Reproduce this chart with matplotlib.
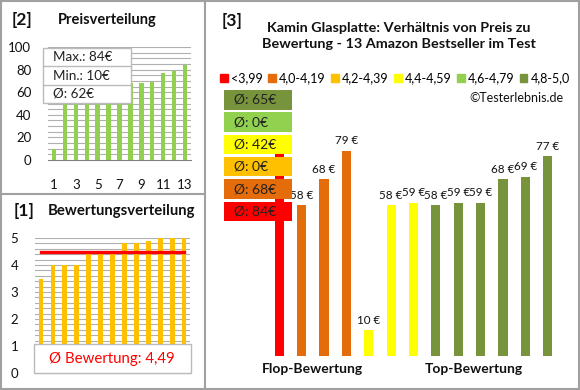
import numpy as np
import matplotlib

matplotlib.use('Agg')

import matplotlib.pyplot as plt
from matplotlib.patches import Rectangle, Patch

plt.rcParams['font.family'] = ['Lato', 'DejaVu Sans']

# panel [2]: prices sorted ascending
prices = [10, 58, 58, 58, 59, 59, 59, 68, 68, 69, 77, 79, 84]
# panel [1]: ratings sorted ascending
ratings = [3.5, 4.0, 4.0, 4.0, 4.4, 4.4, 4.4, 4.8, 4.8, 4.9, 5.0, 5.0, 5.0]
avg_rating = 4.49

# panel [3]: products ordered by rating, colored by rating class
p3_prices = [84, 58, 68, 79, 10, 58, 59, 58, 59, 59, 68, 69, 77]
p3_class = [0, 1, 1, 1, 3, 3, 3, 5, 5, 5, 5, 5, 5]
class_labels = ['<3,99', '4,0-4,19', '4,2-4,39', '4,4-4,59', '4,6-4,79', '4,8-5,0']
class_colors = ['#FF0000', '#E46C0A', '#FFC000', '#FFFF00', '#92D050', '#77933C']

W, H = 580, 390
fig = plt.figure(figsize=(W / 100, H / 100), dpi=100)
fig.patch.set_facecolor('white')


def fx(x):
    return x / W


def fy(y):
    return 1 - y / H


def px_axes(l, t, r, b):
    return fig.add_axes([l / W, 1 - b / H, (r - l) / W, (b - t) / H])


def fig_rect(l, t, r, b, **kw):
    fig.add_artist(Rectangle((fx(l), fy(b)), (r - l) / W, (b - t) / H,
                             transform=fig.transFigure, **kw))


grey = '#A0A0A0'
grid_c = '#B0B0B0'
txt_c = '#111111'

# frames
fig_rect(1, 1, 579, 389, fill=False, ec=grey, lw=1.5)
fig.add_artist(plt.Line2D([fx(205), fx(205)], [fy(1), fy(389)], color=grey, lw=1.5))
fig.add_artist(plt.Line2D([fx(1), fx(205)], [fy(194), fy(194)], color=grey, lw=1.5))

# ---------- panel [2] Preisverteilung ----------
ax2 = px_axes(48, 47, 191, 160)
x = np.arange(1, len(prices) + 1)
ax2.bar(x, prices, width=0.4, color='#92D050', zorder=2)
ax2.set_ylim(0, 100)
ax2.set_xlim(0.45, 13.55)
for g in np.arange(5, 101, 5):
    ax2.axhline(g, color=grid_c, lw=0.8, zorder=1)
ax2.set_yticks(np.arange(0, 101, 20))
ax2.set_xticks(np.arange(1, 14, 2))
for s in ['top', 'right', 'left']:
    ax2.spines[s].set_visible(False)
ax2.spines['bottom'].set_color('#808080')
ax2.tick_params(axis='both', length=0, labelsize=9.5, labelcolor=txt_c)
ax2.tick_params(axis='x', pad=14)
ax2.tick_params(axis='y', pad=12)

fig.text(fx(12), fy(20), '[2]', fontsize=12.5, fontweight='bold', va='center', color=txt_c)
fig.text(fx(58), fy(20), 'Preisverteilung', fontsize=10.5, fontweight='bold', va='center', color=txt_c)

fig_rect(43, 48, 131, 103, fc='white', ec='#BBBBBB', lw=1, zorder=3)
for yy in [66, 85]:
    fig.add_artist(plt.Line2D([fx(43), fx(131)], [fy(yy), fy(yy)], color='#BBBBBB', lw=1, zorder=4))
stats = [f'Max.: {max(prices)}€', f'Min.: {min(prices)}€', f'Ø: {round(np.mean(prices))}€']
for i, s in enumerate(stats):
    fig.text(fx(53), fy(57 + 18.5 * i), s, fontsize=9.7, va='center', zorder=5, color='#222222')

# ---------- panel [1] Bewertungsverteilung ----------
ax1 = px_axes(35, 238, 190, 373)
x = np.arange(1, len(ratings) + 1)
ax1.bar(x, ratings, width=0.4, color='#FFC000', zorder=2)
ax1.set_ylim(0, 5)
ax1.set_xlim(0.5, 13.5)
for g in np.arange(0.2, 5.01, 0.2):
    ax1.axhline(g, color=grid_c, lw=0.8, zorder=1)
ax1.plot([1, 13], [avg_rating, avg_rating], color='#FF0000', lw=2.4, zorder=3)
ax1.set_yticks(np.arange(0, 6, 1))
ax1.set_xticks([])
for s in ['top', 'right', 'left']:
    ax1.spines[s].set_visible(False)
ax1.spines['bottom'].set_color('#808080')
ax1.tick_params(axis='y', length=0, labelsize=9.5, pad=12, labelcolor=txt_c)

fig.text(fx(14), fy(211), '[1]', fontsize=12.5, fontweight='bold', va='center', color=txt_c)
fig.text(fx(48), fy(211), 'Bewertungsverteilung', fontsize=10.7, fontweight='bold', va='center', color=txt_c)

fig_rect(34, 344, 191, 373, fc='white', ec='#BBBBBB', lw=1, zorder=3)
fig.text(fx(112), fy(359), 'Ø Bewertung: ' + f'{avg_rating:.2f}'.replace('.', ','),
         fontsize=10.8, color='#FF0000', ha='center', va='center', zorder=5)

# ---------- panel [3] ----------
ax3 = px_axes(268, 96, 559, 356)
x = np.arange(len(p3_prices))
ax3.bar(x, p3_prices, width=0.41, color=[class_colors[c] for c in p3_class])
ax3.set_ylim(0, 100)
ax3.set_xlim(-0.5, 12.5)
ax3.axis('off')
for i, v in enumerate(p3_prices):
    ax3.annotate(f'{v} €', (i, v), xytext=(0, 3), textcoords='offset points',
                 ha='center', va='bottom', fontsize=8.4, color=txt_c)

fig.text(fx(222), fy(21), '[3]', fontsize=12.5, fontweight='bold', va='center', color=txt_c)
fig.text(fx(399), fy(36), 'Kamin Glasplatte: Verhältnis von Preis zu\nBewertung - 13 Amazon Bestseller im Test',
         fontsize=10.4, fontweight='bold', ha='center', va='center', linespacing=1.45, color=txt_c)

handles = [Patch(color=c) for c in class_colors]
fig.legend(handles, class_labels, loc='center', bbox_to_anchor=(fx(395), fy(78)), ncol=6,
           frameon=False, fontsize=9, handlelength=0.6, handleheight=0.6,
           handletextpad=0.25, columnspacing=0.45, borderaxespad=0, borderpad=0)
fig.text(fx(563), fy(98), '©Testerlebnis.de', fontsize=9, ha='right', va='center', color=txt_c)

# class averages boxes (top: best class)
for k in range(6):
    vals = [p for p, c in zip(p3_prices, p3_class) if c == k]
    avg = round(np.mean(vals)) if vals else 0
    row = 5 - k
    top = 90 + 22.3 * row
    fig_rect(224, top, 292, top + 19.5, fc=class_colors[k], ec='none', zorder=3)
    fig.text(fx(234), fy(top + 10), f'Ø: {avg}€', fontsize=10, va='center', zorder=5, color='#222222')

fig.text(fx(312), fy(369), 'Flop-Bewertung', fontsize=10, fontweight='bold', ha='center', va='center', color=txt_c)
fig.text(fx(474), fy(369), 'Top-Bewertung', fontsize=10, fontweight='bold', ha='center', va='center', color=txt_c)

fig.savefig('out.png', dpi=100)
plt.close()
